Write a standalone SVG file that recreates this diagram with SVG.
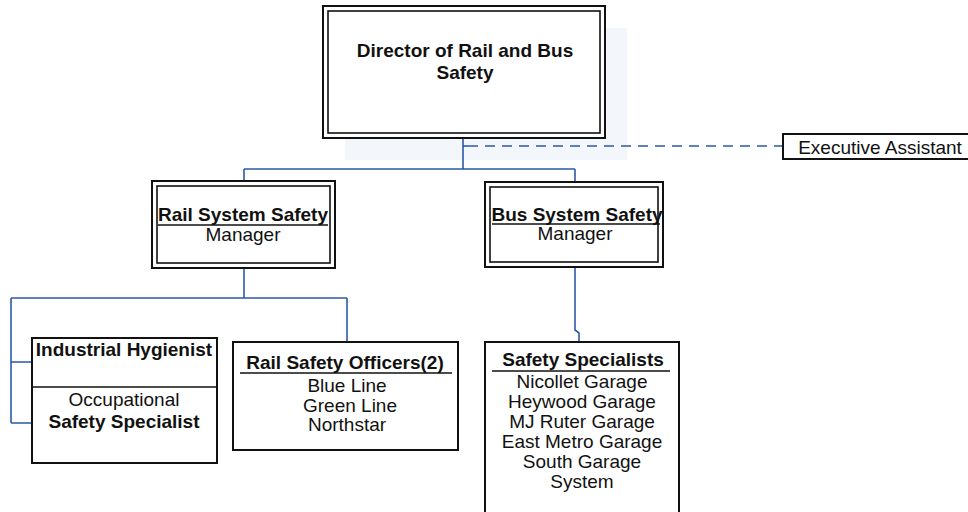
<svg xmlns="http://www.w3.org/2000/svg" width="968" height="512" viewBox="0 0 968 512">
<style>
text{font-family:"Liberation Sans",Arial,sans-serif;font-size:19px;fill:#111;text-anchor:middle}
.b{font-weight:bold}
.box{fill:#fff;stroke:#111;stroke-width:2}
.in{fill:none;stroke:#111;stroke-width:1.6}
.ln{fill:none;stroke:#2d5aa6;stroke-width:1.6}
.dash{fill:none;stroke:#2d5aa6;stroke-width:1.6;stroke-dasharray:10 7}
.ul{stroke:#111;stroke-width:1.6}
</style>
<rect width="968" height="512" fill="#fff"/>
<rect x="345" y="28" width="282" height="132" fill="#f3f6fa"/>
<g id="connectors">
<path class="ln" d="M463 138V169M244 169H575M244 169V182M575 169V182"/>
<path class="dash" d="M468 146H783"/>
<path class="ln" d="M463 146H468"/>
<path class="ln" d="M244 268V298M11 298H347M347 298V342M11 298V423M11 362H32M11 423H32"/>
<path class="ln" d="M575 267V330L579 333V342"/>
</g>
<g id="director">
<rect class="box" x="323" y="6" width="282" height="132"/>
<rect class="in" x="328" y="11" width="272" height="122"/>
<text class="b" x="465" y="57">Director of Rail and Bus</text>
<text class="b" x="465" y="79">Safety</text>
</g>
<g id="executive-assistant">
<rect class="box" x="783" y="134" width="200" height="25"/>
<text x="880" y="154">Executive Assistant</text>
</g>
<g id="rail-manager">
<rect class="box" x="152" y="181" width="183" height="87"/>
<rect class="in" x="157" y="186" width="173" height="77"/>
<text class="b" x="243" y="221">Rail System Safety</text>
<line class="ul" x1="158" y1="225" x2="328" y2="225"/>
<text x="243" y="241">Manager</text>
</g>
<g id="bus-manager">
<rect class="box" x="485" y="182" width="178" height="85"/>
<rect class="in" x="490" y="187" width="168" height="75"/>
<text class="b" x="577" y="221">Bus System Safety</text>
<line class="ul" x1="492" y1="224" x2="660" y2="224"/>
<text x="575" y="240">Manager</text>
</g>
<g id="industrial-hygienist">
<rect class="box" x="32" y="338" width="185" height="125"/>
<line class="ul" x1="32" y1="387" x2="217" y2="387"/>
<text class="b" x="124" y="356">Industrial Hygienist</text>
<text x="124" y="406">Occupational</text>
<text class="b" x="124" y="428">Safety Specialist</text>
</g>
<g id="rail-safety-officers">
<rect class="box" x="233" y="342" width="225" height="108"/>
<text class="b" x="345" y="369">Rail Safety Officers(2)</text>
<line class="ul" x1="240" y1="373" x2="452" y2="373"/>
<text x="347" y="392">Blue Line</text>
<text x="350" y="412">Green Line</text>
<text x="347" y="431">Northstar</text>
</g>
<g id="safety-specialists">
<rect class="box" x="485" y="342" width="194" height="180"/>
<text class="b" x="583" y="366">Safety Specialists</text>
<line class="ul" x1="492" y1="371" x2="670" y2="371"/>
<text x="582" y="388">Nicollet Garage</text>
<text x="582" y="408">Heywood Garage</text>
<text x="582" y="428">MJ Ruter Garage</text>
<text x="582" y="448">East Metro Garage</text>
<text x="582" y="468">South Garage</text>
<text x="582" y="488">System</text>
</g>
</svg>
